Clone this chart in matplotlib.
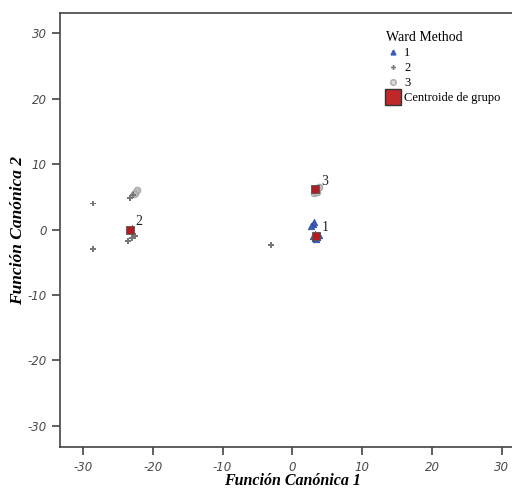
import matplotlib
matplotlib.use('Agg')
import matplotlib.pyplot as plt

plt.rcParams['axes.unicode_minus'] = False

# canonical discriminant scores per Ward cluster
g1_x = [2.9, 3.1, 2.7, 3.3, 3.6, 3.2, 3.5, 3.8, 3.0, 3.4]
g1_y = [0.9, 1.1, 0.6, -0.7, -1.1, -1.3, -0.9, -0.8, -1.0, -1.4]
g2_x = [-28.5, -28.5, -3.0, -23.0, -23.5, -22.6, -22.8, -23.2, -22.9]
g2_y = [4.0, -2.9, -2.3, -1.3, -1.8, -1.0, 5.3, 4.9, 0.3]
g3_x = [-22.5, -22.2, -22.7, 3.3, 3.6, 3.1, 3.5, 3.8]
g3_y = [5.6, 6.0, 5.4, 6.0, 6.3, 5.6, 5.8, 6.5]

cent_x = [3.4, -23.3, 3.3]
cent_y = [-0.9, 0.0, 6.2]
cent_lab = ['1', '2', '3']

ticks = [-30, -20, -10, 0, 10, 20, 30]

serif = 'Liberation Serif'

fig = plt.figure(figsize=(5.12, 4.9), dpi=100)
ax = fig.add_axes([0.117, 0.087, 0.908, 0.886])

ax.scatter(g1_x, g1_y, marker='^', s=22, color='#3b5bb5', edgecolors='#2a4aa0', linewidths=0.5, zorder=3)
ax.scatter(g2_x, g2_y, marker='P', s=18, color='#777777', edgecolors='none', zorder=3)
ax.scatter(g3_x, g3_y, marker='o', s=24, facecolors='#bbbbbb', edgecolors='#999999', linewidths=0.5, zorder=2)
ax.scatter(cent_x, cent_y, marker='s', s=28, color='#b01e23', edgecolors='#555555', linewidths=0.6, zorder=4)
for cx, cy, lab in zip(cent_x, cent_y, cent_lab):
    ax.annotate(lab, (cx, cy), xytext=(4, 3), textcoords='offset points',
                fontsize=10, family=serif, color='#222222')

ax.set_xlim(-33.3, 33.3)
ax.set_ylim(-33.3, 33.1)
ax.set_xticks(ticks)
ax.set_yticks(ticks)
ax.tick_params(direction='out', length=6, width=1.2, color='#444444',
               labelsize=8.5, labelcolor='#4a4a4a')
for lbl in ax.get_xticklabels() + ax.get_yticklabels():
    lbl.set_fontstyle('italic')
ax.spines['right'].set_visible(False)
for side in ['left', 'bottom', 'top']:
    ax.spines[side].set_color('#444444')
    ax.spines[side].set_linewidth(1.2)

ax.set_xlabel('Función Canónica 1', family=serif, style='italic', weight='bold', fontsize=11.5, labelpad=-0.5)
ax.set_ylabel('Función Canónica 2', family=serif, style='italic', weight='bold', fontsize=12.5, labelpad=1)

# legend handles
h1 = plt.Line2D([], [], marker='^', ls='none', markersize=3.5, color='#3b5bb5')
h2 = plt.Line2D([], [], marker='P', ls='none', markersize=3.5, color='#777777', markeredgecolor='none')
h3 = plt.Line2D([], [], marker='o', ls='none', markersize=4, markerfacecolor='#dddddd', markeredgecolor='#aaaaaa')
h4 = plt.Line2D([], [], marker='s', ls='none', markersize=11, color='#c0282a', markeredgecolor='#333333')
leg = fig.legend([h1, h2, h3, h4], ['1', '2', '3', 'Centroide de grupo'],
                 title='Ward Method', loc='upper right', bbox_to_anchor=(0.995, 0.955),
                 frameon=False, prop={'family': serif, 'size': 9},
                 handletextpad=0.3, handlelength=1.2, labelspacing=0.25, borderpad=0.2)
leg.get_title().set_family(serif)
leg.get_title().set_fontsize(10)
leg._legend_box.align = 'left'

fig.savefig('out.png', dpi=100)
